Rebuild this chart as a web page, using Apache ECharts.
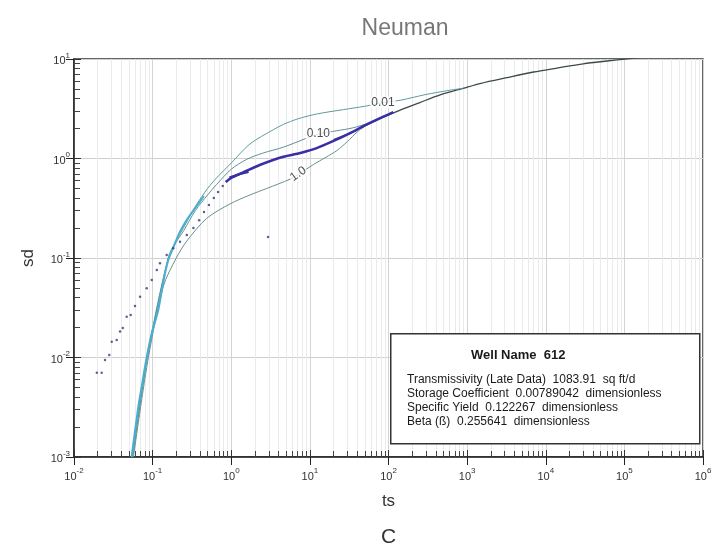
<!DOCTYPE html>
<html>
<head>
<meta charset="utf-8">
<script src="https://cdn.jsdelivr.net/npm/echarts@6/dist/echarts.min.js"></script>
<style>
  html, body { margin: 0; padding: 0; background: #fff; }
  #neuman { width: 716px; height: 550px; }
</style>
</head>
<body>
<div id="neuman"></div>
<script>
  // values (ts = dimensionless time, sd = dimensionless drawdown)
  var xTicks = [0.01, 0.1, 1, 10, 100, 1000, 10000, 100000, 1000000];
  var yTicks = [0.001, 0.01, 0.1, 1, 10];

  // early dots (observed data)
  var dotTs = [0.0195, 0.0225, 0.0248, 0.0281, 0.0302, 0.0349, 0.0385, 0.0417, 0.0468, 0.0526, 0.0597, 0.0692,
               0.0841, 0.0975, 0.113, 0.124, 0.151, 0.183, 0.223, 0.272, 0.33, 0.39, 0.45, 0.52, 0.6, 0.68, 0.78, 2.94];
  var dotSd = [0.00703, 0.00703, 0.00944, 0.0106, 0.0144, 0.015, 0.0182, 0.0198, 0.0257, 0.0267, 0.033, 0.0408,
               0.0496, 0.0601, 0.0757, 0.0885, 0.107, 0.125, 0.146, 0.170, 0.2, 0.24, 0.29, 0.34, 0.4, 0.46, 0.53, 0.163];

  // observed data, continuous part
  var dataTs = [0.85, 1.0, 1.5, 2.3, 4.6, 8, 12.2, 20, 32, 50, 86, 115];
  var dataSd = [0.58, 0.64, 0.74, 0.86, 1.04, 1.15, 1.27, 1.5, 1.79, 2.15, 2.63, 2.92];
  var tailTs = [0.95, 1.3, 1.66];
  var tailSd = [0.64, 0.7, 0.735];

  // early (type A) Theis curve
  var earlyTs = [0.054, 0.0658, 0.0726, 0.084, 0.0975, 0.118, 0.137, 0.158, 0.193, 0.223, 0.28, 0.36, 0.45];
  var earlySd = [0.001, 0.0032, 0.0051, 0.01, 0.0175, 0.03, 0.058, 0.095, 0.141, 0.184, 0.25, 0.33, 0.42];

  // Neuman curves, beta = 0.01 / 0.10 / 1.0
  var b001Ts = [0.055, 0.085, 0.157, 0.2, 0.246, 0.35, 0.5, 0.653, 1.0, 1.73, 3.44, 4.6, 7, 12.2, 26.7, 50, 86, 141, 300, 600, 889];
  var b001Sd = [0.001, 0.01, 0.1, 0.15, 0.2, 0.33, 0.5, 0.64, 0.9, 1.4, 1.95, 2.2, 2.5, 2.8, 3.1, 3.35, 3.65, 3.85, 4.4, 4.85, 5.07];
  var b010Ts = [0.056, 0.086, 0.157, 0.2, 0.25, 0.35, 0.5, 0.653, 1.0, 1.57, 2.5, 4.6, 9.1, 12.8, 22, 35, 60];
  var b010Sd = [0.001, 0.01, 0.097, 0.145, 0.19, 0.3, 0.43, 0.55, 0.78, 0.98, 1.13, 1.3, 1.6, 1.76, 1.9, 2.03, 2.3];
  var b100Ts = [0.057, 0.088, 0.137, 0.2, 0.272, 0.487, 0.966, 1.73, 2.83, 5.6, 7.1, 11.1, 16, 22, 30, 40, 50];
  var b100Sd = [0.001, 0.0098, 0.052, 0.1, 0.148, 0.25, 0.35, 0.43, 0.5, 0.62, 0.69, 0.87, 1.03, 1.2, 1.48, 1.85, 2.1];

  // late (type B) curve
  var lateTs = [20, 32, 50, 86, 141, 250, 454, 889, 1500, 3200, 7000, 13800, 30000, 60000, 110000, 400000];
  var lateSd = [1.55, 1.79, 2.12, 2.6, 3.07, 3.65, 4.35, 5.07, 5.7, 6.5, 7.4, 8.1, 8.95, 9.55, 10.05, 11.2];

  // curve labels
  var curveNames = ['0.01', '0.10', '1.0'];
  var curveLabelTs = [85, 12.8, 7.1];
  var curveLabelSd = [3.65, 1.76, 0.7];

  var boxTitle = 'Well Name  612';
  var boxLines = [
    'Transmissivity (Late Data)  1083.91  sq ft/d',
    'Storage Coefficient  0.00789042  dimensionless',
    'Specific Yield  0.122267  dimensionless',
    'Beta (ß)  0.255641  dimensionless'
  ];

  function pairs(xs, ys) {
    var out = [];
    for (var i = 0; i < xs.length; i++) out.push([xs[i], ys[i]]);
    return out;
  }

  function powLabel(v) {
    var e = Math.round(Math.log(v) / Math.LN10);
    return '{b|10}{e|' + e + '}';
  }

  var font = 'Liberation Sans, Arial, sans-serif';
  var tickRich = {
    b: { fontSize: 11, color: '#333', fontFamily: font, verticalAlign: 'bottom', lineHeight: 15 },
    e: { fontSize: 8, color: '#333', fontFamily: font, verticalAlign: 'top', lineHeight: 15 }
  };

  var chart = echarts.init(document.getElementById('neuman'));

  var curveLine = function (name, data, color, width) {
    return {
      name: name, type: 'line', data: data, showSymbol: false, smooth: 0.3,
      lineStyle: { color: color, width: width }, silent: true, z: 2
    };
  };

  // second copy of each axis: only draws the short inside ticks
  var tickOnlyAxis = function (min, max, split, pos) {
    return {
      type: 'log', logBase: 10, min: min, max: max, splitNumber: split, position: pos,
      axisLine: { show: false },
      axisTick: { show: true, inside: true, length: 7, lineStyle: { color: '#333' } },
      minorTick: { show: true, splitNumber: 9, length: 6, lineStyle: { color: '#444' } },
      axisLabel: { show: false },
      splitLine: { show: false }
    };
  };

  var labelData = [];
  for (var i = 0; i < curveNames.length; i++) {
    labelData.push({
      value: [curveLabelTs[i], curveLabelSd[i]],
      label: { rotate: i === 2 ? 35 : 0 }
    });
  }

  var boxGraphics = [
    {
      type: 'rect', left: 390, top: 333, z: 100,
      shape: { width: 309, height: 110 },
      style: { fill: '#fff', stroke: '#333', lineWidth: 1.5 }
    },
    {
      type: 'text', left: 471, top: 349, z: 101,
      style: { text: boxTitle, font: 'bold 13px ' + font, fill: '#1a1a1a' }
    }
  ];
  for (var k = 0; k < boxLines.length; k++) {
    boxGraphics.push({
      type: 'text', left: 407, top: 374 + k * 14, z: 101,
      style: { text: boxLines[k], font: '12px ' + font, fill: '#1a1a1a' }
    });
  }
  boxGraphics.push({
    type: 'text', left: 381, top: 527, z: 101,
    style: { text: 'C', font: '21px ' + font, fill: '#333' }
  });

  chart.setOption({
    animation: false,
    title: {
      text: 'Neuman', left: 400, top: 12, textAlign: 'center',
      textStyle: { fontFamily: font, fontSize: 23, fontWeight: 'normal', color: '#777' }
    },
    grid: { left: 74, right: 13, top: 59, bottom: 93, show: true, borderColor: '#333', borderWidth: 1.5 },
    xAxis: [
      {
        type: 'log', logBase: 10, min: xTicks[0], max: xTicks[xTicks.length - 1], splitNumber: 8, position: 'bottom',
        name: 'ts', nameLocation: 'middle', nameGap: 36,
        nameTextStyle: { fontFamily: font, fontSize: 17, color: '#333' },
        axisLine: { lineStyle: { color: '#222', width: 1.5 } },
        axisTick: { length: 8, lineStyle: { color: '#222' } },
        axisLabel: { margin: 10, formatter: powLabel, rich: tickRich },
        splitLine: { show: true, lineStyle: { color: '#d4d4d4' } },
        minorTick: { show: false, splitNumber: 9 },
        minorSplitLine: { show: true, lineStyle: { color: '#ebebeb' } }
      },
      tickOnlyAxis(xTicks[0], xTicks[xTicks.length - 1], 8, 'bottom')
    ],
    yAxis: [
      {
        type: 'log', logBase: 10, min: yTicks[0], max: yTicks[yTicks.length - 1], splitNumber: 4, position: 'left',
        name: 'sd', nameLocation: 'middle', nameGap: 37,
        nameTextStyle: { fontFamily: font, fontSize: 17, color: '#333' },
        axisLine: { lineStyle: { color: '#222', width: 1.5 } },
        axisTick: { length: 8, lineStyle: { color: '#222' } },
        axisLabel: { margin: 4, formatter: powLabel, rich: tickRich },
        splitLine: { show: true, lineStyle: { color: '#cfcfcf' } }
      },
      tickOnlyAxis(yTicks[0], yTicks[yTicks.length - 1], 4, 'left')
    ],
    series: [
      curveLine('late', pairs(lateTs, lateSd), '#3d4a4a', 1.3),
      curveLine('beta 0.01', pairs(b001Ts, b001Sd), '#5f9a9c', 1),
      curveLine('beta 0.10', pairs(b010Ts, b010Sd), '#5f9196', 1),
      curveLine('beta 1.0', pairs(b100Ts, b100Sd), '#678f90', 1),
      curveLine('early', pairs(earlyTs, earlySd), '#4aaed0', 2),
      {
        name: 'data', type: 'line', data: pairs(dataTs, dataSd), showSymbol: false, smooth: 0.2,
        lineStyle: { color: '#3a2ea6', width: 2.5 }, z: 4
      },
      {
        name: 'tail', type: 'line', data: pairs(tailTs, tailSd), showSymbol: false,
        lineStyle: { color: '#3a2ea6', width: 2.5 }, z: 4
      },
      {
        name: 'dots', type: 'scatter', data: pairs(dotTs, dotSd), symbolSize: 2.5,
        itemStyle: { color: '#3b3478' }, z: 5
      },
      {
        name: 'labels', type: 'scatter', data: labelData, symbolSize: 0, z: 6,
        label: {
          show: true, position: 'inside', fontFamily: font, fontSize: 12, color: '#222',
          backgroundColor: '#fff', padding: [0, 1],
          formatter: function (p) { return curveNames[p.dataIndex]; }
        }
      }
    ],
    graphic: boxGraphics
  });
</script>
</body>
</html>
